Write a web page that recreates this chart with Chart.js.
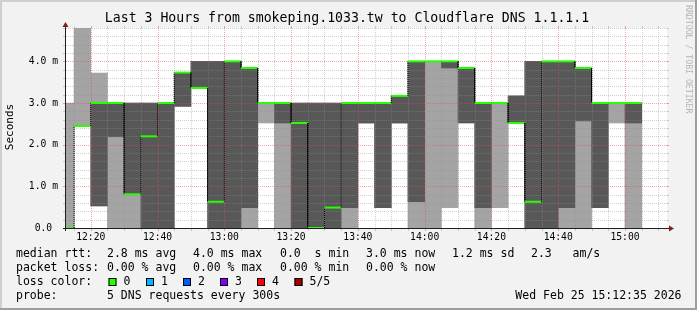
<!DOCTYPE html>
<html>
<head>
<meta charset="utf-8">
<script src="https://cdn.jsdelivr.net/npm/chart.js@4.4.1/dist/chart.umd.min.js"></script>
<style>
    html, body { margin: 0; padding: 0; background: #f2f2f2; }
    canvas { display: block; }
</style>
</head>
<body>
<canvas id="grafico" width="697" height="310"></canvas>
<script>
// Smokeping - Cloudflare DNS 1.1.1.1, últimas 3 horas (valores em ms)
const inicioJanela = '12:12:35';
const fimJanela = '15:12:35';

// início de cada passo de 5 minutos
const passos = ['12:10', '12:15', '12:20', '12:25', '12:30', '12:35', '12:40', '12:45', '12:50', '12:55',
    '13:00', '13:05', '13:10', '13:15', '13:20', '13:25', '13:30', '13:35', '13:40', '13:45',
    '13:50', '13:55', '14:00', '14:05', '14:10', '14:15', '14:20', '14:25', '14:30', '14:35',
    '14:40', '14:45', '14:50', '14:55', '15:00'];

// fumaça: ping mínimo, 2º, mediana, 4º e máximo
const pingMin = [0, 2.45, 0.53, 0, 0, 0, 0, 2.92, 3.36, 0, 0, 0, 2.52, 0, 0, 0, 0, 0, 2.52, 0.49,
    2.52, 0, 0, 0.49, 2.52, 0, 0.49, 2.52, 0, 0, 0, 0, 0.49, 2.52, 0];
const pingP2 = [0, 2.45, 0.53, 2.19, 0.81, 0, 0, 2.92, 3.36, 0, 0, 0.49, 3.0, 2.52, 0, 0, 0, 0.49, 2.52, 0.49,
    2.52, 0.63, 4.0, 3.84, 2.52, 0.49, 3.0, 2.52, 0, 0, 0.49, 2.57, 0.49, 3.0, 2.52];
const mediana = [0, 2.45, 3.0, 3.0, 0.81, 2.2, 3.0, 3.73, 3.36, 0.63, 4.0, 3.84, 3.0, 3.0, 2.52, 0, 0.49, 3.0, 3.0, 3.0,
    3.17, 4.0, 4.0, 4.0, 3.84, 3.0, 3.0, 2.52, 0.63, 4.0, 4.0, 3.84, 3.0, 3.0, 3.0];
const pingP4 = [0, 2.45, 3.0, 3.0, 3.0, 3.0, 3.0, 3.73, 4.0, 4.0, 4.0, 3.84, 3.0, 3.0, 3.0, 3.0, 3.0, 3.0, 3.0, 3.0,
    3.17, 4.0, 4.0, 4.0, 3.84, 3.0, 3.0, 3.17, 4.0, 4.0, 4.0, 3.84, 3.0, 3.0, 3.0];
const pingMax = [3.0, 4.8, 3.72, 3.0, 3.0, 3.0, 3.0, 3.73, 4.0, 4.0, 4.0, 3.84, 3.0, 3.0, 3.0, 3.0, 3.0, 3.0, 3.0, 3.0,
    3.17, 4.0, 4.0, 4.0, 3.84, 3.0, 3.0, 3.17, 4.0, 4.0, 4.0, 3.84, 3.0, 3.0, 3.0];

const xTicks = ['12:20', '12:40', '13:00', '13:20', '13:40', '14:00', '14:20', '14:40', '15:00'];
const yTicks = [0, 1, 2, 3, 4];
const yTickTextos = ['0.0 ', '1.0 m', '2.0 m', '3.0 m', '4.0 m'];
const yMax = 4.8;

const coresPerda = ['#26ff00', '#00b8ff', '#0059ff', '#7e00ff', '#ff0000', '#a10000'];
const rotulosPerda = ['0', '1', '2', '3', '4', '5/5'];

const FONTE = '"DejaVu Sans Mono", monospace';

// minutos desde 12:00
function minutos(hora) {
    const [h, m, s] = hora.split(':').map(Number);
    return (h - 12) * 60 + m + (s || 0) / 60;
}

const centros = passos.map(p => minutos(p) + 2.5);
const fumacaExterna = centros.map((x, i) => ({ x, y: [pingMin[i], pingMax[i]] }));
const fumacaInterna = centros.map((x, i) => ({ x, y: [pingP2[i], pingP4[i]] }));
const pontosMediana = [];
passos.forEach((p, i) => {
    pontosMediana.push({ x: minutos(p), y: mediana[i] });
    pontosMediana.push({ x: minutos(p) + 5, y: mediana[i] });
});

function desenharGrade(chart) {
    const { ctx, chartArea: a, scales: { x, y } } = chart;
    ctx.save();
    ctx.lineWidth = 1;
    const cinza = 'rgba(143,143,143,0.42)';
    const vermelho = 'rgba(222,79,79,0.5)';

    // linhas horizontais a cada 0.2 ms
    for (let k = 1; k <= Math.round(yMax / 0.2); k++) {
        const py = Math.round(y.getPixelForValue(k * 0.2)) + 0.5;
        ctx.strokeStyle = k % 5 === 0 ? vermelho : cinza;
        ctx.setLineDash([]);
        ctx.beginPath();
        ctx.moveTo(a.left - 3, py); ctx.lineTo(a.left, py);
        ctx.moveTo(a.right, py); ctx.lineTo(a.right + 2, py);
        ctx.stroke();
        ctx.setLineDash([1, 1]);
        ctx.beginPath();
        ctx.moveTo(a.left, py); ctx.lineTo(a.right, py);
        ctx.stroke();
    }

    // linhas verticais a cada 5 minutos
    const ini = Math.ceil(x.min / 5) * 5;
    for (let t = ini; t <= x.max; t += 5) {
        const px = Math.round(x.getPixelForValue(t)) + 0.5;
        ctx.strokeStyle = t % 20 === 0 ? vermelho : cinza;
        ctx.setLineDash([]);
        ctx.beginPath();
        ctx.moveTo(px, a.top - 2); ctx.lineTo(px, a.top);
        ctx.moveTo(px, a.bottom); ctx.lineTo(px, a.bottom + 3);
        ctx.stroke();
        ctx.setLineDash([1, 1]);
        ctx.beginPath();
        ctx.moveTo(px, a.top); ctx.lineTo(px, a.bottom);
        ctx.stroke();
    }
    ctx.restore();
}

const estiloRrd = {
    id: 'estiloRrd',
    beforeDraw(chart) {
        const { ctx, chartArea: a, width, height } = chart;
        ctx.save();
        ctx.fillStyle = '#f2f2f2';
        ctx.fillRect(0, 0, width, height);
        ctx.fillStyle = '#cfcfcf';
        ctx.fillRect(0, 0, width, 2);
        ctx.fillRect(0, 0, 2, height);
        ctx.fillStyle = '#9e9e9e';
        ctx.fillRect(0, height - 2, width, 2);
        ctx.fillRect(width - 2, 0, 2, height);
        ctx.fillStyle = '#ffffff';
        ctx.fillRect(a.left, a.top, a.right - a.left, a.bottom - a.top);
        ctx.restore();
    },
    beforeDatasetDraw(chart, args) {
        if (args.meta.type === 'line') desenharGrade(chart);
    },
    afterDraw(chart) {
        const { ctx, chartArea: a } = chart;
        ctx.save();

        // eixos
        const ay = a.bottom + 0.5;
        const ax = a.left - 0.5;
        ctx.strokeStyle = '#1f1f1f';
        ctx.lineWidth = 1;
        ctx.beginPath();
        ctx.moveTo(a.left - 3, ay); ctx.lineTo(a.right + 2, ay);
        ctx.moveTo(ax, a.bottom + 3); ctx.lineTo(ax, a.top - 2);
        ctx.stroke();
        ctx.fillStyle = '#801f1f';
        ctx.beginPath();
        ctx.moveTo(a.right + 2, ay - 3); ctx.lineTo(a.right + 7, ay); ctx.lineTo(a.right + 2, ay + 3);
        ctx.closePath(); ctx.fill();
        ctx.beginPath();
        ctx.moveTo(ax - 3, a.top - 1); ctx.lineTo(ax, a.top - 6); ctx.lineTo(ax + 3, a.top - 1);
        ctx.closePath(); ctx.fill();

        // título
        ctx.fillStyle = '#000';
        ctx.textBaseline = 'middle';
        ctx.textAlign = 'center';
        ctx.font = '13.2px ' + FONTE;
        ctx.fillText('Last 3 Hours from smokeping.1033.tw to Cloudflare DNS 1.1.1.1', 347, 19);

        // rótulo vertical
        ctx.save();
        ctx.translate(10, 127);
        ctx.rotate(-Math.PI / 2);
        ctx.font = '11px ' + FONTE;
        ctx.fillText('Seconds', 0, 0);
        ctx.restore();

        ctx.save();
        ctx.translate(688, 5);
        ctx.rotate(Math.PI / 2);
        ctx.textAlign = 'left';
        ctx.fillStyle = '#b4b4b4';
        ctx.font = '8.2px ' + FONTE;
        ctx.fillText('RRDTOOL / TOBI OETIKER', 0, 0);
        ctx.restore();

        // legenda
        ctx.textAlign = 'left';
        ctx.font = '11.5px ' + FONTE;
        const col = [16, 107, 193, 280, 366, 452, 531];
        const linha1 = ['median rtt:', '2.8 ms avg', '4.0 ms max', '0.0  s min', '3.0 ms now', '1.2 ms sd', '2.3   am/s'];
        const linha2 = ['packet loss:', '0.00 % avg', '0.00 % max', '0.00 % min', '0.00 % now'];
        linha1.forEach((t, i) => ctx.fillText(t, col[i], 254));
        linha2.forEach((t, i) => ctx.fillText(t, col[i], 268));
        ctx.fillText('loss color:', 16, 282);
        const caixas = [108.5, 146, 183, 220, 257, 294.5];
        rotulosPerda.forEach((r, i) => {
            ctx.fillStyle = coresPerda[i];
            ctx.fillRect(caixas[i], 278, 8, 8);
            ctx.strokeStyle = '#000';
            ctx.strokeRect(caixas[i] + 0.5, 278.5, 7, 7);
            ctx.fillStyle = '#000';
            ctx.fillText(r, caixas[i] + 15, 282);
        });
        ctx.fillText('probe:', 16, 296);
        ctx.fillText('5 DNS requests every 300s', 107, 296);
        ctx.textAlign = 'right';
        ctx.fillText('Wed Feb 25 15:12:35 2026', 681.5, 296);
        ctx.restore();
    }
};

Chart.defaults.font.family = FONTE;
Chart.defaults.color = '#000';

new Chart(document.getElementById('grafico'), {
    type: 'bar',
    data: {
        datasets: [
            {
                type: 'line',
                label: 'median',
                data: pontosMediana,
                order: 0,
                borderColor: coresPerda[0],
                borderWidth: 2,
                pointRadius: 0,
                tension: 0,
                clip: { left: 0, top: 0, right: 0, bottom: 2 },
                segment: {
                    borderColor: c => c.p0DataIndex % 2 === 1 ? '#000000' : undefined,
                    borderWidth: c => c.p0DataIndex % 2 === 1 ? 1 : undefined,
                    borderDash: c => c.p0DataIndex % 2 === 1 ? [1, 1] : undefined
                }
            },
            {
                label: 'p2-p4',
                data: fumacaInterna,
                order: 1,
                grouped: false,
                backgroundColor: '#585858',
                borderWidth: 0,
                barPercentage: 1,
                categoryPercentage: 1
            },
            {
                label: 'min-max',
                data: fumacaExterna,
                order: 2,
                grouped: false,
                backgroundColor: '#a4a4a4',
                borderWidth: 0,
                barPercentage: 1,
                categoryPercentage: 1
            }
        ]
    },
    options: {
        responsive: false,
        animation: false,
        events: [],
        layout: { padding: { top: 28, left: 0, right: 30, bottom: 62 }, autoPadding: false },
        plugins: { legend: { display: false }, tooltip: { enabled: false }, title: { display: false } },
        scales: {
            x: {
                type: 'linear',
                offset: false,
                min: minutos(inicioJanela),
                max: minutos(fimJanela),
                grid: { display: false, drawTicks: false },
                border: { display: false },
                afterFit: s => { s.height = 20; },
                afterBuildTicks: s => { s.ticks = xTicks.map(t => ({ value: minutos(t) })); },
                ticks: {
                    autoSkip: false,
                    maxRotation: 0,
                    padding: 4,
                    font: { size: 9.7 },
                    callback: (v, i) => xTicks[i]
                }
            },
            y: {
                min: 0,
                max: yMax,
                grid: { display: false, drawTicks: false },
                border: { display: false },
                afterFit: s => { s.width = 66; },
                afterBuildTicks: s => { s.ticks = yTicks.map(v => ({ value: v })); },
                ticks: {
                    padding: 8,
                    font: { size: 9.7 },
                    callback: (v, i) => yTickTextos[i]
                }
            }
        }
    },
    plugins: [estiloRrd]
});
</script>
</body>
</html>
